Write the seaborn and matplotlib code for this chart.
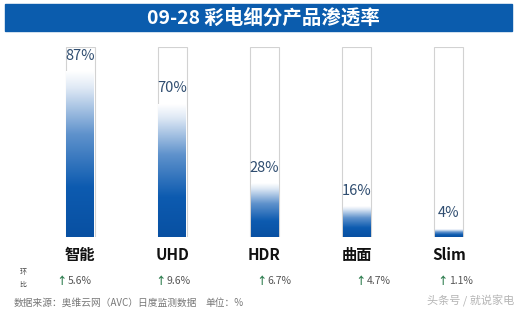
import numpy as np
import pandas as pd
import seaborn as sns
import matplotlib.pyplot as plt
from matplotlib.patches import Rectangle
from matplotlib.colors import LinearSegmentedColormap

categories = ['智能', 'UHD', 'HDR', '曲面', 'Slim']
penetration = [87, 70, 28, 16, 4]
mom_change = [5.6, 9.6, 6.7, 4.7, 1.1]
title = '09-28 彩电细分产品渗透率'
source = '数据来源：奥维云网（AVC）日度监测数据'
unit = '单位：%'
watermark = '头条号 / 就说家电'

sns.set_theme(style='white')
plt.rcParams['font.family'] = ['Noto Sans CJK SC', 'DejaVu Sans']

W, H = 526, 312
fig = plt.figure(figsize=(W / 100, H / 100), dpi=100)
fig.patch.set_facecolor('white')
ax = fig.add_axes([34 / W, 75 / H, 461 / W, 190 / H])

df = pd.DataFrame({'cat': categories, 'val': penetration, 'full': [100] * len(categories)})

# outline boxes (100%)
sns.barplot(data=df, x='cat', y='full', ax=ax, width=0.315, color='white',
            edgecolor='#d2d2d2', linewidth=0.8, saturation=1)
n_out = len(ax.patches)
# value bars
sns.barplot(data=df, x='cat', y='val', ax=ax, width=0.30, color='#0b57a8',
            saturation=1, linewidth=0)

cmap = LinearSegmentedColormap.from_list(
    'grad', [(0.0, '#0850a2'), (0.3, '#0d5bb0'), (0.62, '#5f92cc'),
             (0.9, '#dfe9f5'), (1.0, '#ffffff')])
grad = np.linspace(0, 1, 256).reshape(-1, 1)
for p in ax.patches[n_out:]:
    x0, y0 = p.get_x(), p.get_y()
    w, h = p.get_width(), p.get_height()
    p.set_visible(False)
    ax.imshow(grad, cmap=cmap, origin='lower', aspect='auto',
              extent=(x0, x0 + w, y0, y0 + h), interpolation='bilinear', zorder=3)

ax.set_xlim(-0.5, len(categories) - 0.5)
ax.set_ylim(0, 100)
for s in ax.spines.values():
    s.set_visible(False)
ax.set_yticks([])
ax.set_xlabel('')
ax.set_ylabel('')
ax.tick_params(axis='x', length=0, pad=7, labelsize=11)
for lbl in ax.get_xticklabels():
    lbl.set_fontweight('bold')
    lbl.set_color('#111111')

for i, v in enumerate(penetration):
    ax.annotate(f'{v}%', xy=(i, v), xytext=(0, 9), textcoords='offset pixels',
                ha='center', va='bottom', fontsize=10.5, color='#2f4d70', zorder=4)

# change row
offsets = [-9, -3, 6, 13, 3]
for i, c in enumerate(mom_change):
    ax.annotate('↑', xy=(i, 31), xycoords=('data', 'figure pixels'),
                xytext=(offsets[i] - 4, 0), textcoords='offset pixels',
                ha='right', va='center', fontsize=7.5, fontweight='bold', color='#2e7d4f')
    ax.annotate(f'{c}%', xy=(i, 31), xycoords=('data', 'figure pixels'),
                xytext=(offsets[i] - 3, 0), textcoords='offset pixels',
                ha='left', va='center', fontsize=7.5, color='#555555')
fig.text(23 / W, 1 - 272 / H, '环', ha='center', va='center', fontsize=5, color='#444444')
fig.text(23 / W, 1 - 285 / H, '比', ha='center', va='center', fontsize=5, color='#444444')

# title bar
fig.patches.append(Rectangle((5 / W, 1 - 31 / H), 507 / W, 27 / H,
                             transform=fig.transFigure, color='#0b5cad', zorder=0))
fig.text(263 / W, 1 - 17.5 / H, title, ha='center', va='center', fontsize=14,
         fontweight='bold', color='white')

# footer
fig.text(14 / W, 1 - 303 / H, source, ha='left', va='center', fontsize=7, color='#777777')
fig.text(205 / W, 1 - 303 / H, unit, ha='left', va='center', fontsize=7, color='#777777')
fig.text(514 / W, 1 - 301 / H, watermark, ha='right', va='center', fontsize=8, color='#b5b5b5')

fig.savefig('out.png', dpi=100, facecolor='white')
